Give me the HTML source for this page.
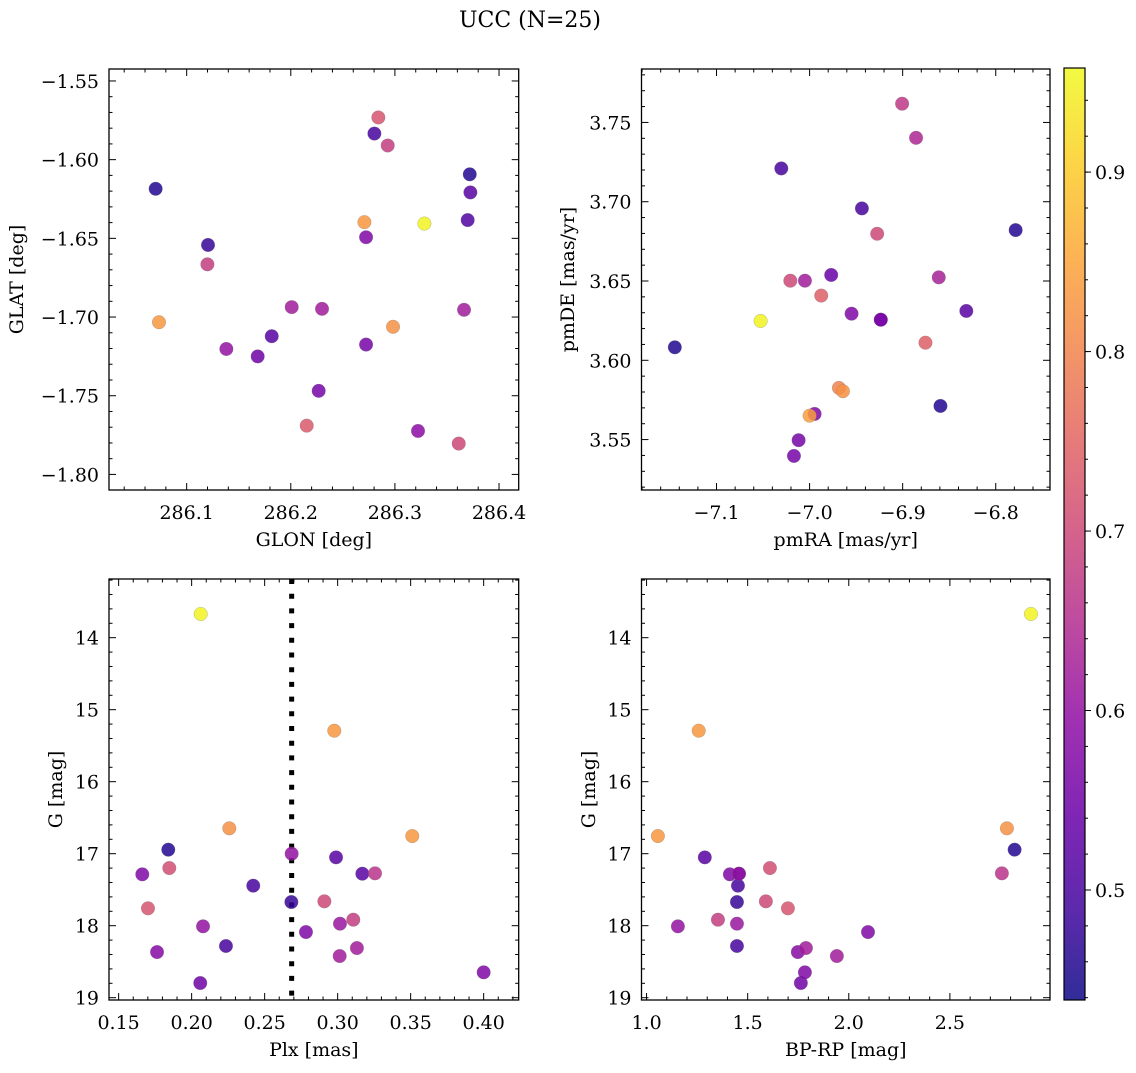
<!DOCTYPE html>
<html><head><meta charset="utf-8">
<style>
html,body{margin:0;padding:0;background:#fff;}
svg text{font-family:"DejaVu Serif","Liberation Serif",serif;fill:#000;}
</style></head>
<body>
<svg id="fig" width="1136" height="1068" viewBox="0 0 1136 1068" xmlns="http://www.w3.org/2000/svg">
<defs>
<linearGradient id="plasma" x1="0" y1="1" x2="0" y2="0">
<stop offset="0" stop-color="#0d0887"/><stop offset="0.1" stop-color="#41049d"/><stop offset="0.2" stop-color="#6a00a8"/>
<stop offset="0.3" stop-color="#8f0da4"/><stop offset="0.4" stop-color="#b12a90"/><stop offset="0.5" stop-color="#cc4778"/>
<stop offset="0.6" stop-color="#e16462"/><stop offset="0.7" stop-color="#f2844b"/><stop offset="0.8" stop-color="#fca636"/>
<stop offset="0.9" stop-color="#fcce25"/><stop offset="1" stop-color="#f0f921"/>
</linearGradient>
</defs>
<text x="530" y="27" font-size="22" text-anchor="middle">UCC (N=25)</text>
</svg>
<script>
// ---- data ----
const glon = [286.0702,286.1205,286.1199,286.0734,286.1381,286.1682,286.1817,286.2009,286.2300,286.2268,286.2153,286.2841,286.2803,286.2931,286.2707,286.2723,286.2723,286.2982,286.3283,286.3719,286.3725,286.3699,286.3664,286.3222,286.3613];
const glat = [-1.6185,-1.6542,-1.6665,-1.7033,-1.7203,-1.7250,-1.7122,-1.6937,-1.6948,-1.7469,-1.7690,-1.5732,-1.5834,-1.5910,-1.6397,-1.6493,-1.7175,-1.7062,-1.6406,-1.6093,-1.6208,-1.6384,-1.6954,-1.7724,-1.7804];
const prob1 = [0.46,0.48,0.68,0.83,0.60,0.55,0.52,0.62,0.62,0.56,0.73,0.72,0.50,0.68,0.83,0.57,0.56,0.82,0.95,0.46,0.52,0.51,0.62,0.59,0.70];

const pmra = [-7.1448,-7.0304,-7.0526,-7.0207,-7.0050,-6.9768,-6.9875,-6.9549,-6.9235,-6.9438,-6.9274,-6.9006,-6.8856,-6.8612,-6.8755,-6.8316,-6.7786,-6.8594,-6.9685,-6.9642,-6.9946,-7.0000,-7.0118,-7.0168,-6.9235];
const pmde = [3.6082,3.7210,3.6248,3.6502,3.6502,3.6538,3.6408,3.6294,3.6256,3.6958,3.6798,3.7618,3.7403,3.6523,3.6111,3.6311,3.6821,3.5712,3.5826,3.5805,3.5662,3.5651,3.5496,3.5397,3.6256];
const prob2 = [0.46,0.50,0.95,0.70,0.62,0.54,0.74,0.57,0.58,0.50,0.70,0.67,0.64,0.63,0.74,0.52,0.46,0.46,0.80,0.82,0.57,0.84,0.56,0.56,0.56];

const plx = [0.2062,0.2977,0.2258,0.3511,0.1840,0.2685,0.2989,0.1662,0.1847,0.3169,0.3256,0.2422,0.2683,0.2909,0.1701,0.3107,0.2078,0.3016,0.2783,0.2235,0.1763,0.3132,0.3014,0.2059,0.4000];
const gmag3 = [13.671,15.292,16.648,16.755,16.944,17.000,17.051,17.287,17.199,17.278,17.273,17.444,17.671,17.662,17.759,17.917,18.009,17.972,18.088,18.282,18.366,18.310,18.421,18.796,18.648];
const prob3 = [0.95,0.83,0.82,0.83,0.46,0.60,0.52,0.57,0.71,0.52,0.66,0.50,0.48,0.70,0.72,0.68,0.60,0.61,0.57,0.50,0.58,0.62,0.62,0.55,0.57];
const plxLine = [0.2685];

const bprp = [2.901,1.258,2.782,1.056,2.820,1.288,1.412,1.457,1.610,2.757,1.452,1.447,1.590,1.699,1.353,1.155,1.447,2.095,1.447,1.748,1.788,1.941,1.763,1.783,1.457];
const gmag4 = [13.671,15.292,16.648,16.755,16.944,17.051,17.287,17.278,17.199,17.273,17.444,17.671,17.662,17.759,17.917,18.009,17.972,18.088,18.282,18.366,18.310,18.421,18.796,18.648,17.278];
const prob4 = [0.95,0.83,0.82,0.83,0.46,0.52,0.57,0.52,0.71,0.66,0.50,0.48,0.70,0.72,0.68,0.60,0.61,0.57,0.50,0.58,0.62,0.62,0.55,0.57,0.60];

const cbTicks = [0.5,0.6,0.7,0.8,0.9];
const vmin = 0.4387, vmax = 0.958;

// ---- helpers ----
const NS = "http://www.w3.org/2000/svg";
const svg = document.getElementById('fig');
const FS = 19;
function mk(tag, attrs, parent){ const e=document.createElementNS(NS,tag); for(const k in attrs) e.setAttribute(k,attrs[k]); (parent||svg).appendChild(e); return e; }
const stops=[[0,[13,8,135]],[0.1,[65,4,157]],[0.2,[106,0,168]],[0.3,[143,13,164]],[0.4,[177,42,144]],[0.5,[204,71,120]],[0.6,[225,100,98]],[0.7,[242,132,75]],[0.8,[252,166,54]],[0.9,[252,206,37]],[1,[240,249,33]]];
function plasma(v){ let t=(v-vmin)/(vmax-vmin); t=Math.max(0,Math.min(1,t));
  for(let i=1;i<stops.length;i++){ if(t<=stops[i][0]){ const a=stops[i-1],b=stops[i],f=(t-a[0])/(b[0]-a[0]);
    const c=a[1].map((x,j)=>Math.round(x+(b[1][j]-x)*f)); return `rgb(${c[0]},${c[1]},${c[2]})`; } } return 'rgb(240,249,33)'; }
function fmt(v,d){ const s=Math.abs(v).toFixed(d); return (v<0?'\u2212':'')+s; }

function panel(cfg){
  const g=mk('g',{});
  
  
  const {L,R,T,B}=cfg;
  const sx=v=>L+(v-cfg.x0)/(cfg.x1-cfg.x0)*(R-L);
  const sy=cfg.invert ? (v=>T+(v-cfg.y0)/(cfg.y1-cfg.y0)*(B-T)) : (v=>B-(v-cfg.y0)/(cfg.y1-cfg.y0)*(B-T));
  const tg=mk('g',{stroke:'#000','stroke-width':1},g);
  const lo=Math.min(cfg.x0,cfg.x1), hi=Math.max(cfg.x0,cfg.x1);
  for(let k=Math.ceil(lo/cfg.xmin-1e-6);k*cfg.xmin<=hi+1e-9;k++){
    const v=k*cfg.xmin; const x=sx(v);
    const major=Math.abs(v/cfg.xmaj-Math.round(v/cfg.xmaj))<1e-6; const len=major?7:3.5;
    mk('line',{x1:x,y1:B,x2:x,y2:B-len},tg); mk('line',{x1:x,y1:T,x2:x,y2:T+len},tg);
    if(major){ const t=mk('text',{x:x,y:B+29,'font-size':FS,'text-anchor':'middle',stroke:'none'},g); t.textContent=fmt(v,cfg.xd);
        }
  }
  const ylo=Math.min(cfg.y0,cfg.y1), yhi=Math.max(cfg.y0,cfg.y1);
  for(let k=Math.ceil(ylo/cfg.ymin-1e-6);k*cfg.ymin<=yhi+1e-9;k++){
    const v=k*cfg.ymin; const y=sy(v);
    const major=Math.abs(v/cfg.ymaj-Math.round(v/cfg.ymaj))<1e-6; const len=major?7:3.5;
    mk('line',{x1:L,y1:y,x2:L+len,y2:y},tg); mk('line',{x1:R,y1:y,x2:R-len,y2:y},tg);
    if(major){ const t=mk('text',{x:L-10,y:y+7,'font-size':FS,'text-anchor':'end',stroke:'none'},g); t.textContent=fmt(v,cfg.yd);
        }
  }
  if(cfg.vline){ cfg.vline.forEach(v=>{ const l=mk('line',{x1:sx(v),y1:T,x2:sx(v),y2:B,stroke:'#000','stroke-width':5,'stroke-dasharray':'5 9.7'},g);
      }); }
  const pg=mk('g',{},g);
  cfg.xs.forEach((xv,i)=>{
    const c=mk('circle',{cx:sx(xv),cy:sy(cfg.ys[i]),r:6.8,fill:plasma(cfg.cs[i]),'fill-opacity':0.85,stroke:'#777','stroke-width':0.4,'stroke-opacity':0.6},pg);
    
    
  });
  const fr=mk('rect',{x:L,y:T,width:R-L,height:B-T,fill:'none',stroke:'#000','stroke-width':1.3},g);
   
  const xl=mk('text',{x:(L+R)/2,y:B+56,'font-size':FS,'text-anchor':'middle'},g); xl.textContent=cfg.xlabel;
   
  const yx=cfg.ylx, yy=(T+B)/2;
  const yl=mk('text',{x:yx,y:yy,'font-size':FS,'text-anchor':'middle',transform:`rotate(-90 ${yx} ${yy})`},g); yl.textContent=cfg.ylabel;
   
}

panel({name:'glon-glat-panel',L:109,R:518.7,T:69,B:490,x0:286.0254,x1:286.4189,y0:-1.8099,y1:-1.5424,
  xmaj:0.1,xmin:0.02,xd:1,ymaj:0.05,ymin:0.01,yd:2,xs:glon,ys:glat,cs:prob1,xlabel:'GLON [deg]',ylabel:'GLAT [deg]',ylx:23});
panel({name:'pm-panel',L:641.5,R:1050,T:69,B:490,x0:-7.1806,x1:-6.7417,y0:3.5182,y1:3.7837,
  xmaj:0.1,xmin:0.02,xd:1,ymaj:0.05,ymin:0.01,yd:2,xs:pmra,ys:pmde,cs:prob2,xlabel:'pmRA [mas/yr]',ylabel:'pmDE [mas/yr]',ylx:574});
panel({name:'plx-g-panel',L:109,R:518.7,T:579,B:1000,x0:0.1434,x1:0.424,y0:13.185,y1:19.032,invert:true,
  xmaj:0.05,xmin:0.01,xd:2,ymaj:1,ymin:0.2,yd:0,xs:plx,ys:gmag3,cs:prob3,xlabel:'Plx [mas]',ylabel:'G [mag]',ylx:62,vline:plxLine});
panel({name:'cmd-panel',L:641.5,R:1050,T:579,B:1000,x0:0.975,x1:2.995,y0:13.185,y1:19.032,invert:true,
  xmaj:0.5,xmin:0.1,xd:1,ymaj:1,ymin:0.2,yd:0,xs:bprp,ys:gmag4,cs:prob4,xlabel:'BP-RP [mag]',ylabel:'G [mag]',ylx:595});

(function(){
  const L=1064,R=1085,T=68,B=1000;
  const cb=mk('g',{});
  
  
  mk('rect',{x:L,y:T,width:R-L,height:B-T,fill:'url(#plasma)','fill-opacity':0.85},cb);
  mk('rect',{x:L,y:T,width:R-L,height:B-T,fill:'none',stroke:'#000','stroke-width':1.2},cb);
  const sy=v=>B-(v-vmin)/(vmax-vmin)*(B-T);
  for(let k=Math.ceil(vmin/0.02);k*0.02<=vmax;k++){ const v=k*0.02, y=sy(v); mk('line',{x1:R,y1:y,x2:R+3,y2:y,stroke:'#000'},cb); }
  cbTicks.forEach(v=>{ const y=sy(v); mk('line',{x1:R,y1:y,x2:R+6,y2:y,stroke:'#000'},cb);
    const t=mk('text',{x:R+10,y:y+7,'font-size':FS},cb); t.textContent=v.toFixed(1);
      });
})();
</script>
</body></html>
